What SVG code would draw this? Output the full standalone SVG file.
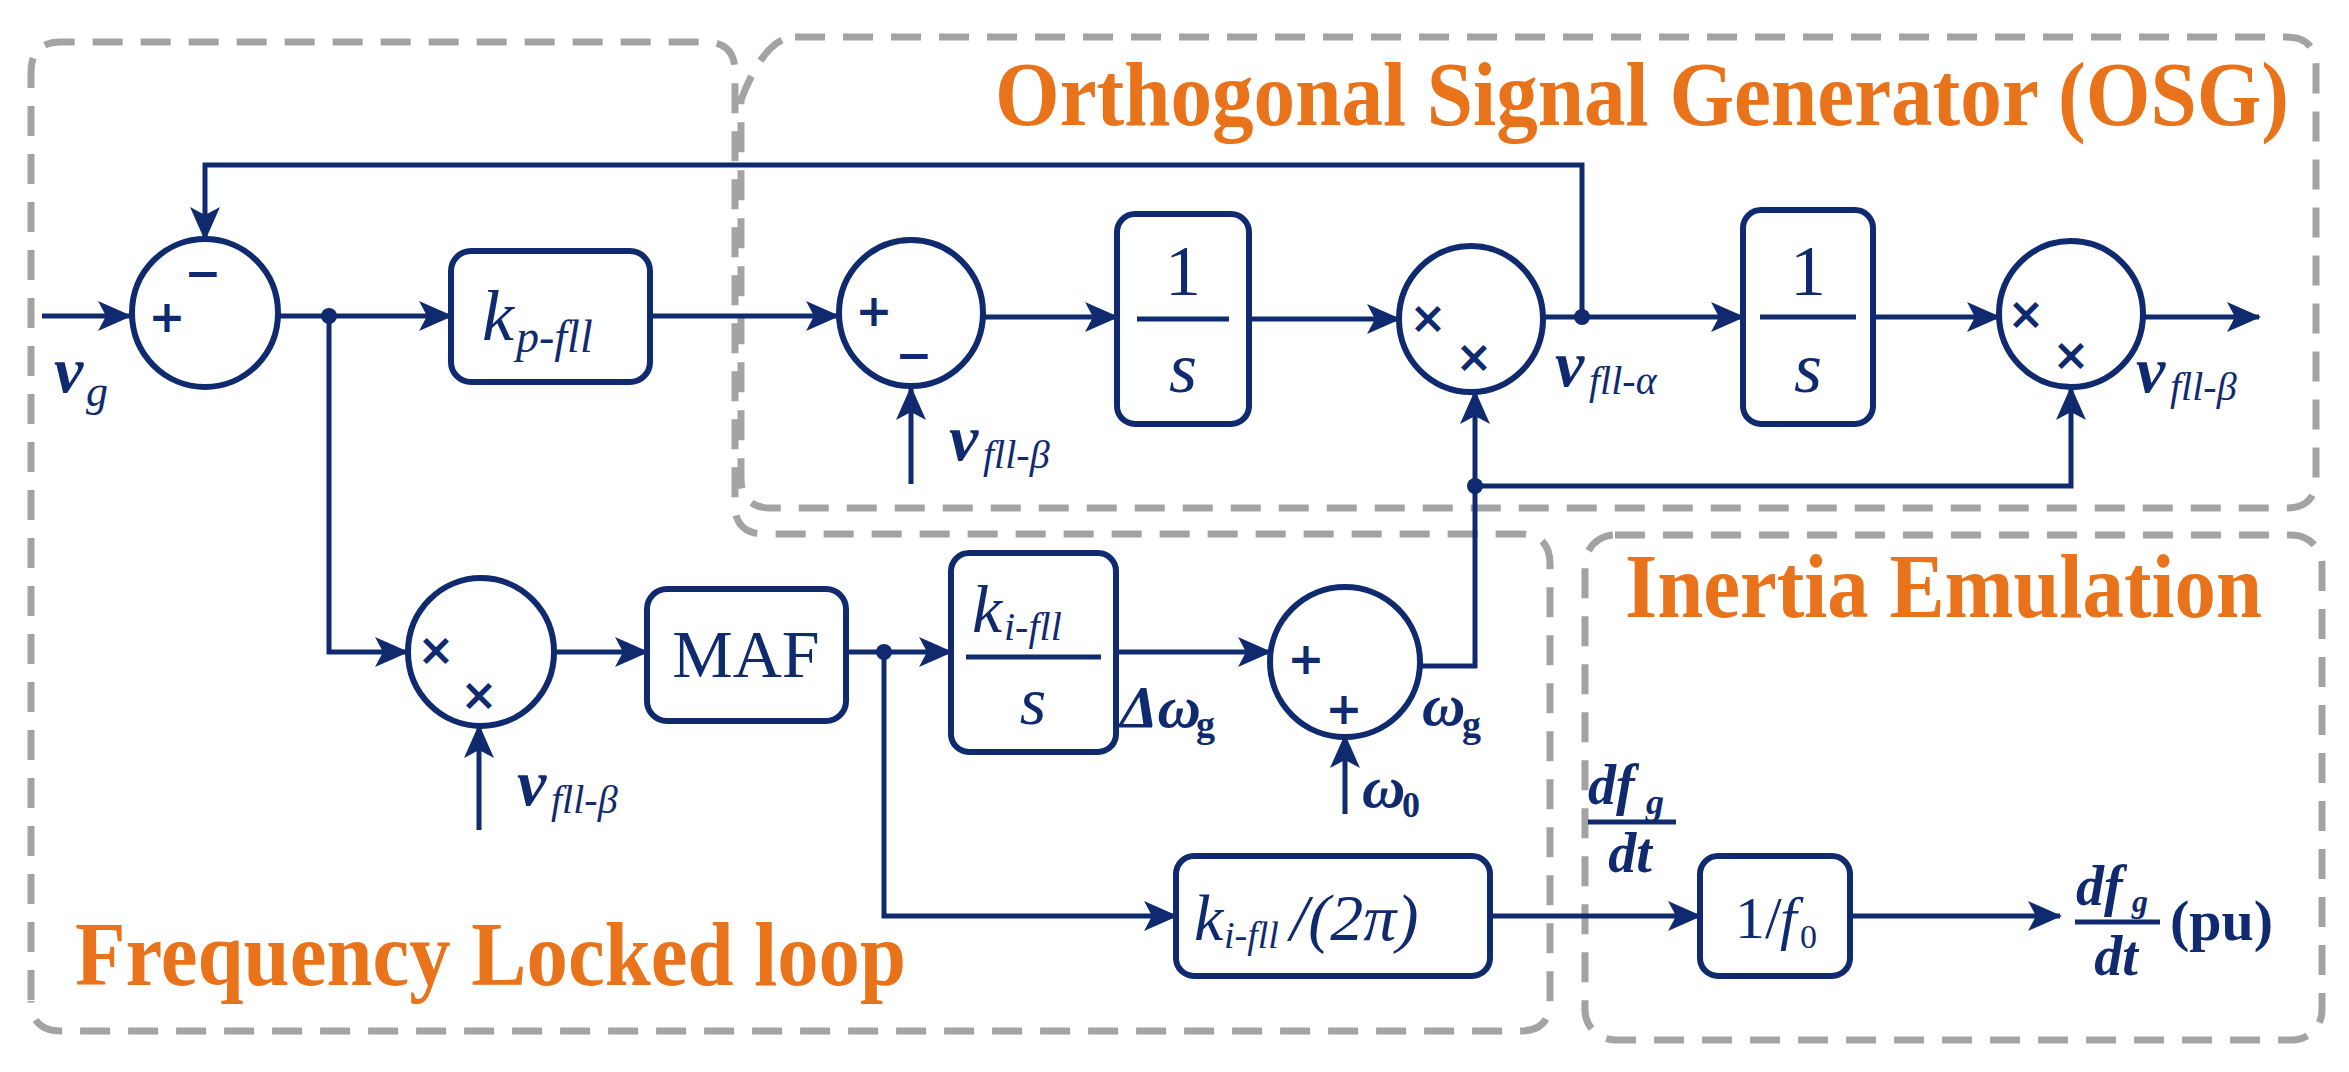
<svg xmlns="http://www.w3.org/2000/svg" width="2349" height="1072" viewBox="0 0 2349 1072">
<defs>
<marker id="ah" markerUnits="userSpaceOnUse" markerWidth="34" markerHeight="30" refX="32" refY="15" orient="auto"><path d="M0,0 L34,15 L0,30 L8,15 Z" fill="#0f2a6e"/></marker>
<style>
.reg{fill:none;stroke:#a3a3a3;stroke-width:7;stroke-dasharray:30 18}
.blk{fill:#fff;stroke:#0f2a6e;stroke-width:6}
.ln{fill:none;stroke:#0f2a6e;stroke-width:5}
.t{font-family:"Liberation Serif",serif;fill:#0f2a6e}
.i{font-style:italic}
.b{font-weight:bold}
.s{font-family:"DejaVu Sans",sans-serif;fill:#0f2a6e;font-size:44px;font-weight:bold;text-anchor:middle}
.ttl{font-family:"Liberation Serif",serif;font-weight:bold;fill:#e8731a;font-size:92px}
</style>
</defs>
<rect width="2349" height="1072" fill="#fff"/>
<g id="regions">
<path class="reg" d="M31,1000 V72 Q31,42 61,42 H705 Q735,42 735,72 V505 Q735,534 765,534 H1520 Q1550,534 1550,564 V1001 Q1550,1031 1520,1031 H61 Q31,1031 31,1001"/>
<path class="reg" d="M795,37 H2286 Q2316,37 2316,67 V478 Q2316,508 2286,508 H771 Q741,508 741,478 V100 Q765,37 795,37"/>
<rect class="reg" x="1585" y="535" width="737" height="505" rx="30"/>
<text class="ttl" x="995" y="125" textLength="1294" lengthAdjust="spacingAndGlyphs">Orthogonal Signal Generator (OSG)</text>
<text class="ttl" x="1625" y="617" textLength="637" lengthAdjust="spacingAndGlyphs">Inertia Emulation</text>
<text class="ttl" x="75" y="985" textLength="831" lengthAdjust="spacingAndGlyphs">Frequency Locked loop</text>
</g>
<g id="connectors">
<path class="ln" d="M42,316 H130" marker-end="url(#ah)"/>
<path class="ln" d="M1582,317 V165 H205 V239" marker-end="url(#ah)"/>
<path class="ln" d="M279,316 H451" marker-end="url(#ah)"/>
<path class="ln" d="M650,316 H838" marker-end="url(#ah)"/>
<path class="ln" d="M911,484 V388" marker-end="url(#ah)"/>
<path class="ln" d="M983,317 H1117" marker-end="url(#ah)"/>
<path class="ln" d="M1249,319 H1399" marker-end="url(#ah)"/>
<path class="ln" d="M1544,317 H1743" marker-end="url(#ah)"/>
<path class="ln" d="M1873,317 H1999" marker-end="url(#ah)"/>
<path class="ln" d="M2144,317 H2259" marker-end="url(#ah)"/>
<path class="ln" d="M1420,666 H1475 V392" marker-end="url(#ah)"/>
<path class="ln" d="M1475,486 H2071 V388" marker-end="url(#ah)"/>
<path class="ln" d="M329,316 V652 H407" marker-end="url(#ah)"/>
<path class="ln" d="M479,830 V726" marker-end="url(#ah)"/>
<path class="ln" d="M554,652 H647" marker-end="url(#ah)"/>
<path class="ln" d="M846,652 H951" marker-end="url(#ah)"/>
<path class="ln" d="M1116,652 H1270" marker-end="url(#ah)"/>
<path class="ln" d="M1345,814 V736" marker-end="url(#ah)"/>
<path class="ln" d="M884,652 V916 H1176" marker-end="url(#ah)"/>
<path class="ln" d="M1490,916 H1700" marker-end="url(#ah)"/>
<path class="ln" d="M1850,916 H2060" marker-end="url(#ah)"/>
<circle cx="329" cy="316" r="8" fill="#0f2a6e"/>
<circle cx="1582" cy="317" r="8" fill="#0f2a6e"/>
<circle cx="1475" cy="486" r="8" fill="#0f2a6e"/>
<circle cx="884" cy="652" r="8" fill="#0f2a6e"/>
</g>
<g id="sum1"><ellipse class="blk" cx="205" cy="313" rx="73" ry="74"/><text class="s" x="167" y="332">+</text><text class="s" x="203" y="288">−</text>
<text class="t i b" x="54" y="392" font-size="66">v</text><text class="t i" x="86" y="406" font-size="44">g</text></g>
<g id="kp"><rect class="blk" x="451" y="251" width="199" height="131" rx="20"/><text class="t i" x="482" y="340" font-size="72">k</text><text class="t i" x="516" y="352" font-size="46">p-fll</text></g>
<g id="sum2"><ellipse class="blk" cx="911" cy="313" rx="72" ry="73"/><text class="s" x="874" y="326">+</text><text class="s" x="914" y="370">−</text>
<text class="t i b" x="949" y="460" font-size="66">v</text><text class="t i" x="983" y="468" font-size="40">fll-β</text></g>
<g id="int1"><rect class="blk" x="1117" y="214" width="132" height="210" rx="18"/><path class="ln" d="M1137,319 H1229"/><text class="t" x="1183" y="295" font-size="72" text-anchor="middle">1</text><text class="t i" x="1183" y="392" font-size="72" text-anchor="middle">s</text></g>
<g id="mult1"><ellipse class="blk" cx="1471" cy="319" rx="72" ry="73"/><text class="s" x="1428" y="333">×</text><text class="s" x="1474" y="372">×</text>
<text class="t i b" x="1555" y="386" font-size="66">v</text><text class="t i" x="1589" y="394" font-size="40">fll-α</text></g>
<g id="int2"><rect class="blk" x="1743" y="210" width="130" height="214" rx="18"/><path class="ln" d="M1760,317 H1856"/><text class="t" x="1808" y="295" font-size="72" text-anchor="middle">1</text><text class="t i" x="1808" y="392" font-size="72" text-anchor="middle">s</text></g>
<g id="mult2"><ellipse class="blk" cx="2071" cy="314" rx="72" ry="73"/><text class="s" x="2026" y="329">×</text><text class="s" x="2071" y="370">×</text>
<text class="t i b" x="2136" y="392" font-size="66">v</text><text class="t i" x="2170" y="400" font-size="40">fll-β</text></g>
<g id="mult3"><ellipse class="blk" cx="481" cy="652" rx="73" ry="74"/><text class="s" x="436" y="665">×</text><text class="s" x="479" y="710">×</text>
<text class="t i b" x="517" y="805" font-size="66">v</text><text class="t i" x="551" y="813" font-size="40">fll-β</text></g>
<g id="maf"><rect class="blk" x="647" y="589" width="199" height="132" rx="20"/><text class="t" x="746" y="677" font-size="68" text-anchor="middle">MAF</text></g>
<g id="ki"><rect class="blk" x="951" y="553" width="165" height="199" rx="18"/><path class="ln" d="M966,657 H1101"/><text class="t i" x="972" y="632" font-size="68">k</text><text class="t i" x="1004" y="640" font-size="40">i-fll</text><text class="t i" x="1033" y="724" font-size="68" text-anchor="middle">s</text>
<text class="t i b" x="1120" y="727" font-size="60">Δω</text><text class="t b" x="1196" y="737" font-size="38">g</text></g>
<g id="sum3"><ellipse class="blk" cx="1345" cy="662" rx="75" ry="75"/><text class="s" x="1306" y="674">+</text><text class="s" x="1344" y="724">+</text>
<text class="t i b" x="1422" y="725" font-size="60">ω</text><text class="t b" x="1462" y="737" font-size="38">g</text>
<text class="t i b" x="1362" y="807" font-size="60">ω</text><text class="t b" x="1402" y="817" font-size="36">0</text></g>
<g id="ki2pi"><rect class="blk" x="1176" y="856" width="314" height="120" rx="18"/><text class="t i" x="1194" y="940" font-size="66">k</text><text class="t i" x="1224" y="948" font-size="38">i-fll</text><text class="t i" x="1290" y="940" font-size="66">/(2π)</text></g>
<g id="f0"><rect class="blk" x="1700" y="856" width="150" height="120" rx="18"/><text class="t" x="1735" y="938" font-size="60">1/</text><text class="t i" x="1780" y="938" font-size="60">f</text><text class="t" x="1800" y="948" font-size="34">0</text>
<text class="t i b" x="1588" y="804" font-size="56">df</text><text class="t i b" x="1646" y="814" font-size="36">g</text><path class="ln" d="M1588,822 H1676"/><text class="t i b" x="1630" y="872" font-size="56" text-anchor="middle">dt</text></g>
<g id="out"><text class="t i b" x="2076" y="905" font-size="56">df</text><text class="t i b" x="2132" y="912" font-size="32">g</text><path class="ln" d="M2075,922 H2160"/><text class="t i b" x="2116" y="975" font-size="56" text-anchor="middle">dt</text><text class="t b" x="2170" y="940" font-size="58">(pu)</text></g>
</svg>
